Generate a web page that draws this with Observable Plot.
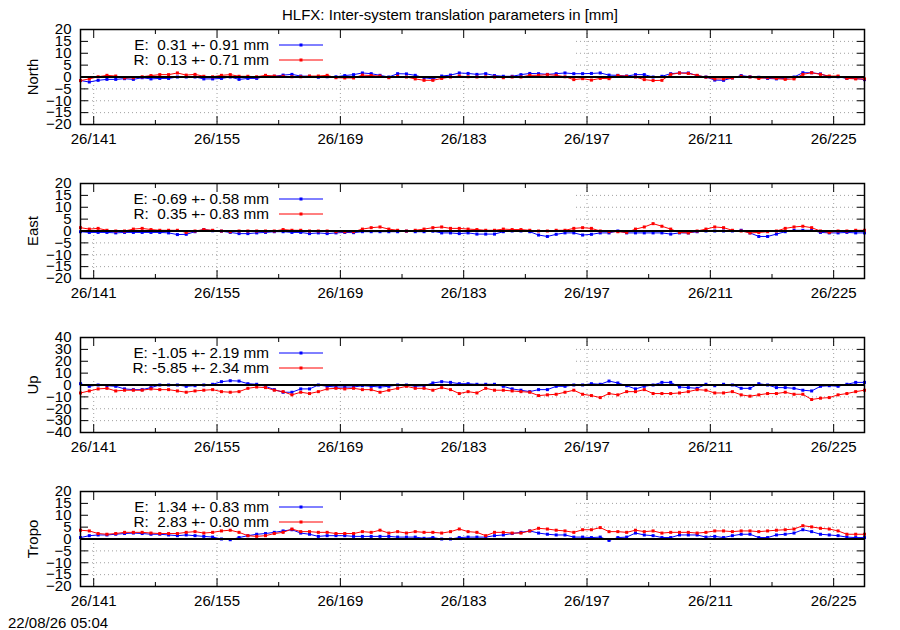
<!DOCTYPE html>
<html><head><meta charset="utf-8">
<script src="https://cdn.jsdelivr.net/npm/d3@7"></script>
<script src="https://cdn.jsdelivr.net/npm/@observablehq/plot@0.6"></script>
<style>
body{margin:0;background:#fff;}
#wrap{position:relative;width:900px;height:630px;font-family:"Liberation Sans",Arial,sans-serif;color:#000;background:#fff;}
#title{position:absolute;top:6px;left:0;width:900px;text-align:center;font-size:15px;line-height:17px;z-index:2;}
#stamp{position:absolute;left:8px;top:614px;font-size:15px;line-height:17px;z-index:2;}
#wrap svg{position:absolute;left:0;z-index:1;}
</style></head><body>
<div id="wrap"><div id="title">HLFX: Inter-system translation parameters in [mm]</div><div id="stamp">22/08/26 05:04</div></div>
<script>
// ---- data ----
const firstDay = 139.5;
const nDays = 90;
const days = Array.from({length: nDays}, (_, k) => firstDay + k);

const xMajor = [141, 155, 169, 183, 197, 211, 225];
const xMinor = [148, 162, 176, 190, 204, 218];
const xPrefix = "26/";

const panelNames = ["North", "East", "Up", "Tropo"];
const yTicksSmall = [-20, -15, -10, -5, 0, 5, 10, 15, 20];
const yTicksLarge = [-40, -30, -20, -10, 0, 10, 20, 30, 40];

const statEmean = [0.31, -0.69, -1.05, 1.34];
const statEsd   = [0.91, 0.58, 2.19, 0.83];
const statRmean = [0.13, 0.35, -5.85, 2.83];
const statRsd   = [0.71, 0.83, 2.34, 0.80];

const northE = [-1.5,-2.1,-1.4,-1,-1,-0.7,-1,-0.3,-0.8,-0.6,-0.6,0,0,0,-0.8,-0.8,-0.6,0,-1,-0.6,-0.6,0.3,0.3,0.8,1.1,0.4,0.3,-0.1,0.1,0.1,0.6,1,1.7,1.4,0.7,0,1.4,1.3,0.7,-0.3,-0.8,0.4,0.8,
  1.7,1.5,1.1,1.4,0.6,0.3,0.3,1,1.5,1.4,1.1,1.4,1.7,1.4,1.4,1.5,1.7,0.8,0.7,0.4,1,1,0,0.3,1.4,1.7,1.7,0.6,0,-1.3,-1.4,-0.4,0.6,0.1,-0.1,-0.6,-0.8,-0.6,0,1.8,1.8,1.3,0.1,0.1,-0.6,-0.6,-1.1];
const northR = [-1.5,-0.8,0.1,0.7,0.4,-0.4,-0.3,0.1,0.6,1,1,1.7,0.8,1.1,0.3,0.1,0.7,1,0.3,0.3,0.1,0.7,0.4,0.3,0.1,0.1,0.4,0.4,0.7,-0.3,-0.4,-0.4,0.8,0.6,0.4,-0.3,0.3,0,-0.8,-1.4,-1.4,-0.6,0,
  0.4,0.1,0,0.1,0,-0.3,0,0,0.7,0.7,1,0.7,0.1,-1.1,-0.7,-1.3,-0.6,-0.7,0.6,0.3,0,-1.1,-1.5,-1.4,1.1,1.7,1.5,0.7,-0.1,-0.8,-0.8,-0.4,0.3,0,-0.6,-0.3,-0.6,-1,-0.8,1.1,1.8,1.1,0.4,0.4,-0.6,-0.8,-0.8];
const eastE = [-0.3,-0.6,-0.6,-0.6,-0.8,-0.6,-0.6,-0.6,-0.6,-0.6,-0.8,-1.5,-1.4,-0.3,0.6,0.1,-0.1,-0.6,-1.1,-1.1,-0.8,-0.6,-0.3,-0.3,-0.6,-0.6,-1.1,-0.8,-1.1,-0.8,-0.6,-0.7,-0.3,-0.3,-0.3,-0.3,-0.3,-0.1,-0.3,-0.3,-0.1,-0.8,-0.8,-1.1,-0.8,
  -1.3,-1.3,-1.3,-0.3,0,0,-0.3,-1.7,-2.3,-1.4,-0.8,-0.8,-1.7,-1.4,-0.8,-0.8,0,-0.8,-0.8,-0.8,-0.8,-0.8,-1.3,-0.8,-0.8,-0.3,0,0,0,0,0.3,-0.8,-2.3,-2.3,-1.3,-0.3,0.3,0.3,0.3,-0.6,-0.8,-0.8,-0.6,-0.8,-0.8];
const eastR = [1.4,0.8,1.1,0.3,0,0,0.8,1.1,0.6,0.3,0.3,0.3,-0.6,0,0.6,0.3,0,-0.3,0,0,0,0,0,0.6,0.3,0.3,0,0,0,-0.3,-0.3,-0.3,0.8,1.4,1.7,0.8,0.3,0,0.3,0.8,1.4,1.7,1.1,1.1,0.8,
  0.6,0.3,0.3,0.8,0.6,0.6,0.3,0,0,0.3,0.3,1.1,1.4,1.1,0,-0.3,-0.3,-0.6,0.8,1.7,3.1,2,0.8,-0.6,-0.8,0,0.8,1.7,1.4,0.3,0,-0.8,-0.6,-0.3,0,1.1,1.7,2,1.4,0,-0.6,0,0,0.3,0.3];
const upE = [1.1,-1.1,0,-0.6,-1.1,-3.3,-3.9,-3.9,-2.2,0,0,0,-1.1,-0.6,0,0.6,2.8,3.6,3.3,1.1,0.6,-1.1,-3.9,-6.1,-6.1,-3.3,-3.3,0,-1.1,-1.7,-1.7,-1.7,-0.6,-1.1,-1.7,-1.1,0,0,-1.1,-0.6,1.7,2.8,2.2,1.1,1.1,
  0.6,0.6,0.6,-1.1,-3.3,-4.4,-5.6,-3.9,-3.9,-1.1,-1.1,0,0,1.1,0.6,3.3,1.7,-0.6,-3.3,-1.1,0,2.2,2.2,-1.7,-2.2,-2.8,0.6,-0.6,0.6,0,-2.8,-2.8,1.1,0,-2.2,-2.2,-2.8,-4.4,-5,-1.1,-0.6,-1.1,0.6,2.2,2.2];
const upR = [-6.7,-5,-3.3,-2.8,-5,-4.4,-4.4,-4.4,-3.3,-3.9,-3.9,-5,-6.1,-5,-4.4,-3.9,-5.6,-6.1,-5.6,-2.8,-1.7,-2.2,-4.4,-5.6,-8.3,-6.1,-7.2,-5.6,-3.3,-2.8,-3.3,-2.8,-3.9,-3.9,-6.1,-4.4,-2.8,-1.1,-2.8,-2.8,-4.4,-2.2,-3.9,-7.2,-5.6,
  -6.7,-2.8,-4.4,-4.4,-5,-5.6,-6.1,-8.9,-8.3,-7.8,-6.1,-4.4,-7.8,-8.9,-10.6,-7.2,-8.3,-5.6,-5.6,-3.9,-7.2,-7.2,-7.2,-6.7,-5.6,-3.9,-4.4,-6.7,-6.7,-5.6,-8.3,-9.4,-8.3,-7.2,-7.2,-6.1,-7.8,-7.8,-12.2,-11.1,-10.6,-8.3,-7.2,-5.6,-4.4];
const tropoE = [0.6,1.4,1.7,1.7,2,2.3,2.5,2.3,2,2,1.7,1.4,1.7,1.4,1.1,0.8,0,-0.3,0.6,1.4,2,2.3,2.8,3.4,3.9,2.5,2,1.1,1.4,1.4,1.4,1.1,1.1,1.1,1.1,1.1,0.8,0.8,0.8,0.3,0.6,0,0,0.6,0.8,
  0.8,0.8,1.4,1.7,2.3,2.8,3.4,2.5,2,1.7,1.7,0.8,0.8,0.6,0.8,-0.6,0.6,0.8,2.5,1.7,1.4,0.6,0.6,1.7,1.7,1.7,0.8,1.1,0.6,1.4,2,2,0.6,0.6,1.7,2,2.5,3.9,3.1,2,1.7,1.4,0.8,0.6,0.6];
const tropoR = [3.7,3.4,2.3,2,2.3,2.8,2.8,2.8,2.5,2.3,2.3,2.3,2.8,3.1,2.5,2.8,3.4,3.7,2.8,1.4,1.1,1.4,2.3,2.8,4.2,3.1,3.1,2.8,2.8,2.3,2.3,2.3,3.1,2.8,3.7,2.5,3.1,2.5,3.1,2.8,2.8,2.5,3.1,4.2,3.1,
  2.8,1.4,2.8,2.8,2.5,2.5,3.4,4.5,4.2,3.7,3.4,2.8,3.9,3.9,4.8,3.1,3.1,2.8,3.7,3.1,3.4,2.5,2.8,2.8,2.8,2.5,2.8,3.4,3.4,3.1,3.4,3.4,3.1,3.4,3.7,3.9,4.2,5.6,5.1,4.5,4.2,3.4,2,2,2];

const seriesE = [northE, eastE, upE, tropoE];
const seriesR = [northR, eastR, upR, tropoR];
const yTicks = [yTicksSmall, yTicksSmall, yTicksLarge, yTicksSmall];

// ---- style ----
const FONT = '"Liberation Sans", Arial, sans-serif';
const BLUE = "#0000ff", RED = "#ff0000", GRID = "#a0a0a0";
const PANEL_H = 154;

const pad5 = v => { const s = v.toFixed(2); return s.length < 5 ? " ".repeat(5 - s.length) + s : s; };

function makePanel(i) {
  const ticks = yTicks[i];
  const rows = days.map((d, k) => ({d, e: seriesE[i][k], r: seriesR[i][k]}));
  const legendItems = [
    {t: `E: ${pad5(statEmean[i])} +- ${statEsd[i].toFixed(2)} mm`, c: BLUE},
    {t: `R: ${pad5(statRmean[i])} +- ${statRsd[i].toFixed(2)} mm`, c: RED}
  ];
  const keyBox = (index, scales, values, dim) => {
    const g = d3.create("svg:g");
    g.append("rect")
      .attr("x", dim.marginLeft + 1).attr("y", dim.marginTop + 1)
      .attr("width", 494).attr("height", 40).attr("fill", "white");
    return g.node();
  };
  const keyText = (index, scales, values, dim) => {
    const g = d3.create("svg:g").attr("font-size", 15.3).attr("font-family", FONT);
    legendItems.forEach((it, j) => {
      const y = dim.marginTop + 16 + 15 * j;
      g.append("text").attr("x", 269).attr("y", y).attr("dy", "0.35em")
        .attr("text-anchor", "end").attr("xml:space", "preserve")
        .style("white-space", "pre").attr("fill", "black").text(it.t);
      g.append("line").attr("x1", 279).attr("x2", 323).attr("y1", y).attr("y2", y)
        .attr("stroke", it.c).attr("stroke-width", 1);
      g.append("rect").attr("x", 299.5).attr("y", y - 1.5).attr("width", 3).attr("height", 3).attr("fill", it.c);
    });
    return g.node();
  };
  const svg = Plot.plot({
    width: 900, height: PANEL_H,
    marginTop: 29, marginBottom: 30, marginLeft: 80, marginRight: 36,
    style: {fontFamily: FONT, fontSize: "15px", background: "transparent", color: "black", overflow: "visible"},
    x: {domain: [days[0], days[days.length - 1]]},
    y: {domain: [ticks[0], ticks[ticks.length - 1]]},
    marks: [
      Plot.gridX(xMajor, {stroke: GRID, strokeOpacity: 1, strokeDasharray: "1,3"}),
      Plot.gridY(ticks, {stroke: GRID, strokeOpacity: 1, strokeDasharray: "1,3"}),
      keyBox,
      Plot.line(rows, {x: "d", y: "e", stroke: BLUE, strokeWidth: 1}),
      Plot.dot(rows, {x: "d", y: "e", fill: BLUE, r: 1.7, symbol: "square"}),
      Plot.line(rows, {x: "d", y: "r", stroke: RED, strokeWidth: 1}),
      Plot.dot(rows, {x: "d", y: "r", fill: RED, r: 1.7, symbol: "square"}),
      Plot.ruleY([0], {stroke: "black", strokeWidth: 2}),
      Plot.axisX(xMajor, {anchor: "bottom", tickSize: -8, tickPadding: 17, tickFormat: d => xPrefix + d, label: null}),
      Plot.axisX(xMajor, {anchor: "top", tickSize: -8, tickFormat: () => "", label: null}),
      Plot.axisX(xMinor, {anchor: "bottom", tickSize: -4, tickFormat: () => "", label: null}),
      Plot.axisX(xMinor, {anchor: "top", tickSize: -4, tickFormat: () => "", label: null}),
      Plot.axisY(ticks, {anchor: "left", tickSize: -8, tickPadding: 17, label: panelNames[i], labelAnchor: "center", labelArrow: false, labelOffset: 53}),
      Plot.axisY(ticks, {anchor: "right", tickSize: -8, tickFormat: () => "", label: null}),
      Plot.frame({stroke: "black", strokeWidth: 1.5}),
      keyText
    ]
  });
  svg.style.top = (PANEL_H * i) + "px";
  return svg;
}

const wrap = document.getElementById("wrap");
for (let i = 0; i < 4; i++) wrap.appendChild(makePanel(i));
</script>
</body></html>
